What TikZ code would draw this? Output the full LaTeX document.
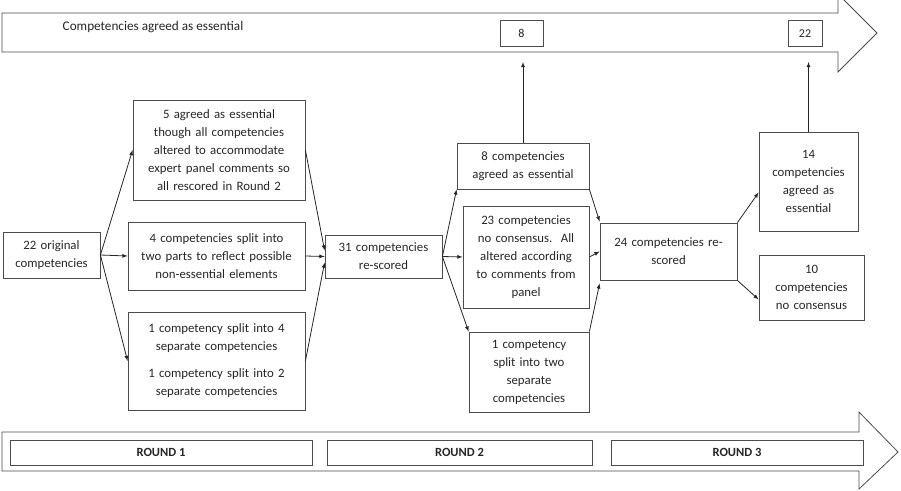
\documentclass[tikz,border=0pt]{standalone}
\usepackage{fontspec}
\setmainfont{Carlito}
\usetikzlibrary{calc}

\begin{document}
\begin{tikzpicture}[x=1pt,y=-1pt,
    line width=0.8pt,
    box/.style={draw=black!70, align=center, inner sep=3pt, text=black!85,
                font=\fontsize{12.8}{18}\selectfont},
    countbox/.style={draw=black!70, inner sep=0pt, text=black!85,
                font=\fontsize{12}{14}\selectfont, minimum height=26pt},
    roundbox/.style={draw=black!70, inner sep=0pt, text=black!85,
                font=\bfseries\fontsize{12.5}{14}\selectfont, minimum height=25pt},
    band/.style={draw=black!70, fill=white},
    flow/.style={draw=black!85, -latex}
  ]
  \useasboundingbox (0,0) rectangle (901,490);

  % timeline bands
  \draw[band] (2,13) -- (838,13) -- (838,-6) -- (877,33) -- (838,72) -- (838,52) -- (2,52) -- cycle;
  \draw[band] (2,432) -- (859,432) -- (859,412) -- (898,452) -- (859,489) -- (859,471) -- (2,471) -- cycle;

  \node[anchor=west, text=black!85, font=\fontsize{13.2}{15}\selectfont] (essential) at (59,27) {Competencies agreed as essential};
  \node[countbox, minimum width=43pt] (count8)  at (521.5,33.5) {8};
  \node[countbox, minimum width=34pt] (count22) at (805,33.5) {22};

  \node[roundbox, minimum width=302pt] (round1) at (161,452.5) {ROUND 1};
  \node[roundbox, minimum width=265pt] (round2) at (459.5,452.5) {ROUND 2};
  \node[roundbox, minimum width=252pt] (round3) at (737,452.5) {ROUND 3};

  % round 1
  \node[box, minimum width=97pt, minimum height=46pt, text width=91pt] (orig) at (51.5,255)
    {22 original\\competencies};
  \node[box, minimum width=172pt, minimum height=100pt, text width=166pt] (agreeA) at (219,150)
    {5 agreed as essential\\though all competencies\\altered to accommodate\\expert panel comments so\\all rescored in Round 2};
  \node[box, minimum width=177pt, minimum height=68pt, text width=171pt] (splitB) at (216.5,256)
    {4 competencies split into\\two parts to reflect possible\\non-essential elements};
  \node[box, minimum width=177pt, minimum height=98pt, text width=171pt] (splitC) at (216.5,361)
    {1 competency split into 4\\separate competencies\\[9pt]1 competency split into 2\\separate competencies};

  % round 2
  \node[box, minimum width=117pt, minimum height=43pt, text width=111pt] (rescore31) at (383.5,256.5)
    {31 competencies\\re-scored};
  \node[box, minimum width=132pt, minimum height=46pt, text width=126pt] (agree8) at (523,166)
    {8 competencies\\agreed as essential};
  \node[box, minimum width=126pt, minimum height=102pt, text width=120pt] (nocons23) at (526,257)
    {23 competencies\\no consensus.~~All\\altered according\\to comments from\\panel};
  \node[box, minimum width=120pt, minimum height=80pt, text width=114pt] (split1) at (529,372)
    {1 competency\\split into two\\separate\\competencies};

  % round 3
  \node[box, minimum width=137pt, minimum height=57pt, text width=131pt] (rescore24) at (668.5,251.5)
    {24 competencies re-\\scored};
  \node[box, minimum width=99pt, minimum height=99pt, text width=93pt] (agree14) at (808.5,181.5)
    {14\\competencies\\agreed as\\essential\\[14pt]};
  \node[box, minimum width=105pt, minimum height=65pt, text width=99pt] (nocons10) at (811.5,287.5)
    {10\\competencies\\no consensus};

  \coordinate (up8)  at (agree8.north |- 0,62);
  \coordinate (up14) at (agree14.north |- 0,62);

  \path (orig.east)      edge[flow] (agreeA.west)
        (orig.east)      edge[flow] (splitB.west)
        (orig.east)      edge[flow] (splitC.west)
        (agreeA.east)    edge[flow] ($(rescore31.west)+(0,-6)$)
        (splitB.east)    edge[flow] (rescore31.west)
        (splitC.east)    edge[flow] ($(rescore31.west)+(0,6)$)
        (rescore31.east) edge[flow] (agree8.south west)
        (rescore31.east) edge[flow] (nocons23.west)
        (rescore31.east) edge[flow] (split1.north west)
        (agree8.south east)   edge[flow] ($(rescore24.north west)+(0,-1)$)
        (nocons23.east)       edge[flow] (rescore24.west)
        (split1.north east)   edge[flow] ($(rescore24.south west)+(0,3)$)
        (rescore24.north east) edge[flow] ($(agree14.west)+(0,11)$)
        (rescore24.south east) edge[flow] ($(nocons10.west)+(0,12)$)
        (agree8.north)   edge[flow] (up8)
        (agree14.north)  edge[flow] (up14);
\end{tikzpicture}
\end{document}
